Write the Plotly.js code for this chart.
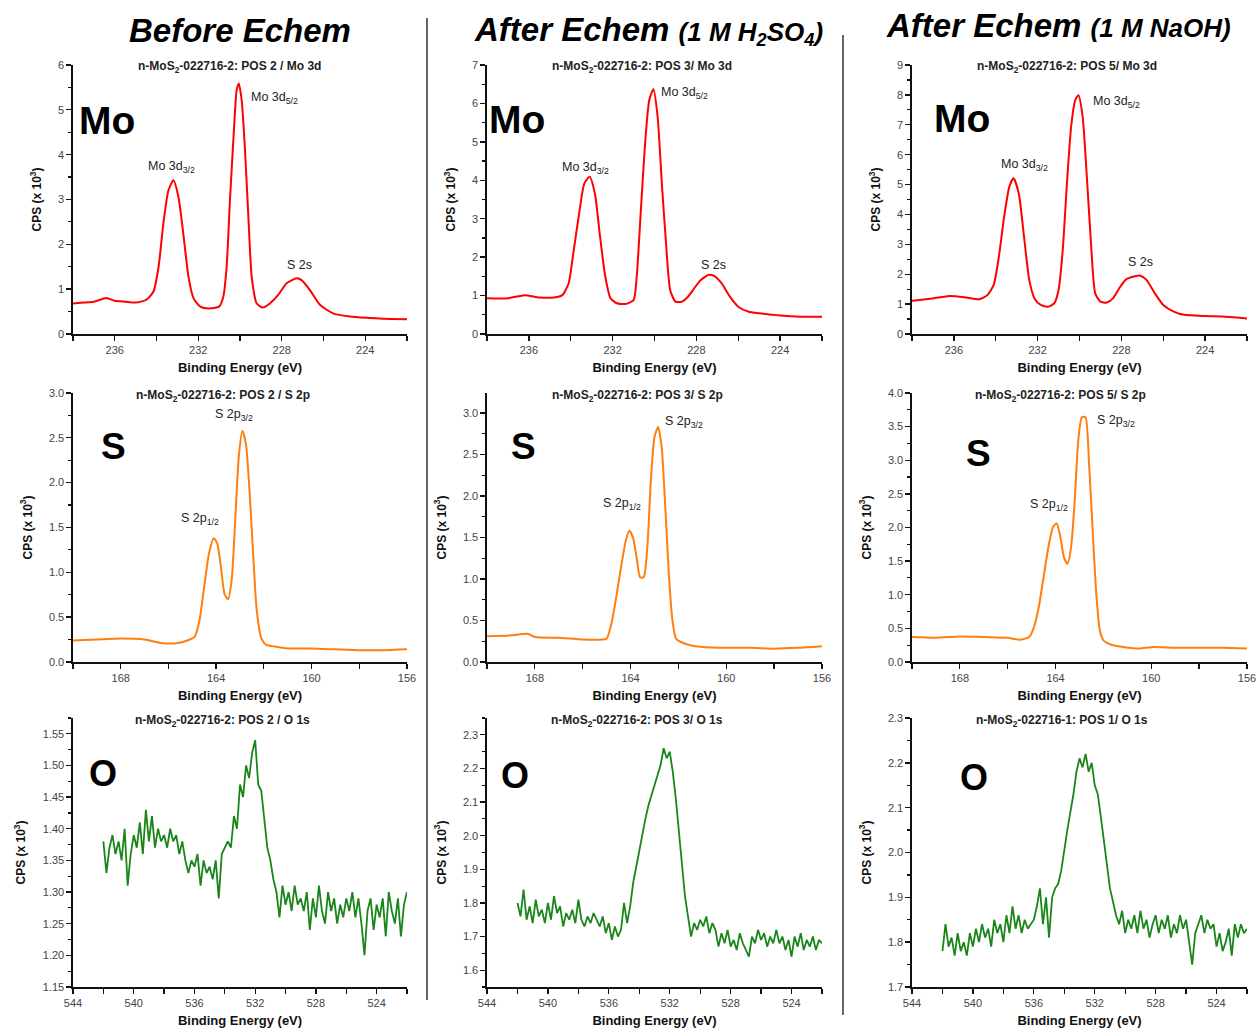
<!DOCTYPE html>
<html><head><meta charset="utf-8">
<script src="https://cdn.plot.ly/plotly-3.0.1.min.js"></script>
<style>body{margin:0;background:#fff}#chart{width:1256px;height:1031px}</style>
</head><body><div id="chart"></div>
<script>
// ---------- DATA ----------
const columnHeaders = ["Before Echem", "After Echem <span style='font-size:26px'>(1 M H<sub>2</sub>SO<sub>4</sub>)</span>", "After Echem <span style='font-size:26px'>(1 M NaOH)</span>"];
const panelTitles = [
  "n-MoS<sub>2</sub>-022716-2: POS 2 / Mo 3d", "n-MoS<sub>2</sub>-022716-2: POS 3/ Mo 3d", "n-MoS<sub>2</sub>-022716-2: POS 5/ Mo 3d",
  "n-MoS<sub>2</sub>-022716-2: POS 2 / S 2p", "n-MoS<sub>2</sub>-022716-2: POS 3/ S 2p", "n-MoS<sub>2</sub>-022716-2: POS 5/ S 2p",
  "n-MoS<sub>2</sub>-022716-2: POS 2 / O 1s", "n-MoS<sub>2</sub>-022716-2: POS 3/ O 1s", "n-MoS<sub>2</sub>-022716-1: POS 1/ O 1s"
];
const elementLabels = ["Mo", "S", "O"];

const moEnergyA = [238,237.5,237,236.4,236,235.5,235,234.5,234.15,233.9,233.67,233.43,233.19,232.95,232.7,232.47,232.23,231.9,231.5,231.0,230.8,230.64,230.48,230.3,230.16,230.06,229.92,229.76,229.6,229.44,229.2,228.9,228.57,228.17,227.77,227.29,227.05,226.65,226.17,225.54,224.74,223.94,223.15,222];
const moCpsA = [0.68,0.70,0.72,0.80,0.74,0.72,0.70,0.76,0.94,1.5,2.47,3.2,3.43,3.06,2.17,1.28,0.8,0.61,0.57,0.61,0.83,1.5,2.99,4.48,5.44,5.59,5.22,4.1,2.62,1.28,0.68,0.59,0.68,0.87,1.13,1.24,1.2,0.98,0.65,0.46,0.39,0.36,0.34,0.33];

const moEnergyB = [238,237,236.2,235.5,234.8,234.4,234.1,233.9,233.6,233.35,233.1,232.85,232.6,232.35,232.1,231.8,231.4,231.0,230.85,230.65,230.45,230.25,230.05,229.85,229.65,229.45,229.25,229.0,228.7,228.4,228.1,227.8,227.4,227.15,226.8,226.4,226.0,225.5,225.0,224.0,223.0,222];
const moCpsB = [0.93,0.93,1.01,0.95,0.95,1.01,1.32,2.01,3.14,3.92,4.09,3.66,2.53,1.49,0.93,0.8,0.78,0.88,1.49,3.23,4.96,6.09,6.37,5.65,3.92,2.36,1.14,0.84,0.84,0.97,1.19,1.4,1.54,1.51,1.32,0.97,0.71,0.58,0.54,0.48,0.45,0.45];

const moEnergyC = [238,237,236.2,235.5,234.8,234.4,234.1,233.85,233.6,233.35,233.15,232.9,232.65,232.4,232.15,231.85,231.5,231.2,231.0,230.8,230.6,230.4,230.2,230.05,229.85,229.65,229.45,229.25,229.0,228.7,228.4,228.1,227.8,227.4,227.1,226.8,226.4,226.0,225.5,225.0,224.0,223.0,222];
const moCpsC = [1.11,1.19,1.27,1.23,1.16,1.3,1.64,2.59,3.92,4.93,5.21,4.7,3.26,1.81,1.19,0.97,0.91,1.03,1.47,2.81,5.04,6.93,7.83,7.99,7.27,5.26,3.03,1.36,1.08,1.05,1.19,1.53,1.81,1.92,1.95,1.81,1.36,0.97,0.75,0.64,0.6,0.58,0.52];

const sEnergyA = [170,169,168,167,166.3,165.6,165.1,164.9,164.7,164.5,164.3,164.1,163.95,163.8,163.65,163.5,163.35,163.2,163.05,162.9,162.75,162.6,162.45,162.3,162.1,161.9,161.5,161,160,159,158,157,156];
const sCpsA = [0.24,0.25,0.26,0.25,0.21,0.21,0.25,0.28,0.46,0.84,1.21,1.38,1.32,1.06,0.76,0.70,0.91,1.58,2.29,2.58,2.43,1.91,1.21,0.58,0.26,0.19,0.17,0.15,0.15,0.14,0.13,0.13,0.14];

const sEnergyB = [170,169,168.3,168,167,166,165.2,165.0,164.8,164.6,164.4,164.2,164.05,163.9,163.75,163.6,163.45,163.3,163.15,163.0,162.85,162.7,162.55,162.4,162.25,162.1,161.9,161.5,161,160,159,158,157,156];
const sCpsB = [0.31,0.32,0.34,0.30,0.29,0.27,0.27,0.28,0.46,0.78,1.14,1.46,1.58,1.5,1.26,1.02,1.02,1.38,2.19,2.71,2.83,2.59,1.87,1.06,0.5,0.28,0.24,0.2,0.18,0.17,0.17,0.16,0.17,0.19];

const sEnergyC = [170,169,168,167,166,165.5,165.1,164.9,164.7,164.5,164.3,164.1,163.95,163.8,163.65,163.5,163.35,163.2,163.05,162.9,162.75,162.6,162.45,162.3,162.15,162.0,161.7,161.3,160.5,160,159,158,157,156];
const sCpsC = [0.37,0.36,0.38,0.37,0.36,0.33,0.37,0.52,0.82,1.26,1.71,2.01,2.06,1.86,1.56,1.46,1.71,2.4,3.3,3.64,3.64,2.95,1.96,1.02,0.47,0.32,0.26,0.23,0.2,0.22,0.21,0.21,0.21,0.2];

const oEnergy = [542.0,541.8,541.6,541.4,541.2,541.0,540.8,540.6,540.4,540.2,540.0,539.8,539.6,539.4,539.2,539.0,538.8,538.6,538.4,538.2,538.0,537.8,537.6,537.4,537.2,537.0,536.8,536.6,536.4,536.2,536.0,535.8,535.6,535.4,535.2,535.0,534.8,534.6,534.4,534.2,534.0,533.8,533.6,533.4,533.2,533.0,532.8,532.6,532.4,532.2,532.0,531.8,531.6,531.4,531.2,531.0,530.8,530.6,530.4,530.2,530.0,529.8,529.6,529.4,529.2,529.0,528.8,528.6,528.4,528.2,528.0,527.8,527.6,527.4,527.2,527.0,526.8,526.6,526.4,526.2,526.0,525.8,525.6,525.4,525.2,525.0,524.8,524.6,524.4,524.2,524.0,523.8,523.6,523.4,523.2,523.0,522.8,522.6,522.4,522.2,522.0];
const oCpsA = [1.38,1.33,1.37,1.39,1.36,1.38,1.35,1.40,1.31,1.36,1.39,1.37,1.41,1.36,1.43,1.38,1.42,1.37,1.40,1.38,1.39,1.37,1.40,1.38,1.39,1.36,1.38,1.35,1.33,1.35,1.34,1.36,1.31,1.35,1.33,1.34,1.32,1.35,1.29,1.36,1.37,1.38,1.37,1.42,1.40,1.47,1.45,1.50,1.48,1.52,1.54,1.47,1.46,1.41,1.37,1.35,1.32,1.30,1.26,1.31,1.28,1.30,1.27,1.31,1.28,1.29,1.27,1.30,1.24,1.29,1.26,1.31,1.27,1.25,1.30,1.27,1.29,1.25,1.28,1.26,1.29,1.27,1.30,1.26,1.29,1.25,1.20,1.27,1.29,1.24,1.28,1.26,1.29,1.23,1.30,1.27,1.25,1.29,1.23,1.28,1.30];
const oCpsB = [1.80,1.76,1.84,1.75,1.79,1.74,1.81,1.76,1.78,1.74,1.80,1.75,1.82,1.77,1.79,1.73,1.77,1.75,1.78,1.74,1.81,1.75,1.73,1.76,1.74,1.77,1.75,1.73,1.76,1.71,1.74,1.69,1.73,1.70,1.72,1.80,1.74,1.79,1.86,1.91,1.96,2.01,2.05,2.09,2.12,2.15,2.18,2.21,2.26,2.23,2.25,2.19,2.11,2.01,1.92,1.82,1.76,1.70,1.74,1.72,1.75,1.73,1.76,1.71,1.74,1.72,1.67,1.71,1.68,1.72,1.67,1.69,1.66,1.71,1.68,1.66,1.64,1.70,1.68,1.72,1.69,1.71,1.67,1.70,1.68,1.72,1.68,1.70,1.66,1.69,1.64,1.70,1.67,1.71,1.66,1.69,1.67,1.70,1.66,1.69,1.68];
const oCpsC = [1.78,1.84,1.79,1.81,1.77,1.82,1.78,1.80,1.77,1.82,1.79,1.83,1.80,1.84,1.81,1.83,1.79,1.85,1.82,1.84,1.80,1.86,1.82,1.88,1.83,1.86,1.82,1.85,1.83,1.84,1.85,1.88,1.92,1.84,1.90,1.81,1.90,1.92,1.93,1.96,2.01,2.05,2.09,2.13,2.18,2.21,2.19,2.22,2.18,2.20,2.15,2.13,2.08,2.03,1.97,1.92,1.89,1.86,1.84,1.87,1.82,1.85,1.83,1.86,1.82,1.87,1.83,1.85,1.81,1.84,1.86,1.82,1.85,1.83,1.86,1.81,1.84,1.82,1.86,1.83,1.85,1.80,1.75,1.82,1.84,1.86,1.82,1.85,1.83,1.84,1.79,1.82,1.78,1.80,1.83,1.77,1.84,1.81,1.84,1.82,1.83];

const moPeakNames = ["Mo 3d<sub>3/2</sub>", "Mo 3d<sub>5/2</sub>", "S 2s"];
const sPeakNames = ["S 2p<sub>1/2</sub>", "S 2p<sub>3/2</sub>"];

// ---------- LAYOUT HELPERS ----------
const W = 1256, H = 1031;
const FF = 'Liberation Sans, Arial, sans-serif';
const colPx = [[73, 407], [487, 822], [912, 1247]];
const rowPx = [[65, 334], [393, 662], [718, 987]];
const series = [
  [moEnergyA, moCpsA], [moEnergyB, moCpsB], [moEnergyC, moCpsC],
  [sEnergyA, sCpsA], [sEnergyB, sCpsB], [sEnergyC, sCpsC],
  [oEnergy, oCpsA], [oEnergy, oCpsB], [oEnergy, oCpsC]
];
const colors = ['#ff0000', '#ff7f0e', '#1a861a'];
const xRanges = [[238, 222], [170, 155.999], [544.001, 522]];
const yRanges = [[-0.001, 6], [-0.001, 7], [-0.001, 9], [-0.001, 3.0001], [-0.001, 3.24], [-0.001, 4.0001], [1.1499, 1.575], [1.55, 2.35], [1.6999, 2.3001]];
const yDtick = [1, 1, 1, 0.5, 0.5, 0.5, 0.05, 0.1, 0.1];
const yFmt = ['d', 'd', 'd', '.1f', '.1f', '.1f', '.2f', '.1f', '.1f'];
const xTick0 = [224, 156, 524];

const traces = [];
const layout = {
  width: W, height: H, margin: {l: 0, r: 0, t: 0, b: 0},
  paper_bgcolor: '#fff', plot_bgcolor: '#fff', showlegend: false,
  font: {family: FF, color: '#222'},
  annotations: [], shapes: []
};

for (let i = 0; i < 9; i++) {
  const r = Math.floor(i / 3), c = i % 3;
  const sfx = i === 0 ? '' : String(i + 1);
  traces.push({
    x: series[i][0], y: series[i][1], xaxis: 'x' + sfx, yaxis: 'y' + sfx,
    type: 'scatter', mode: 'lines',
    line: r < 2 ? {color: colors[r], width: 2, shape: 'spline', smoothing: 0.6} : {color: colors[r], width: 1.8}
  });
  layout['xaxis' + sfx] = {
    domain: [colPx[c][0] / W, colPx[c][1] / W], anchor: 'y' + sfx,
    range: xRanges[r], showgrid: false, zeroline: false,
    showline: true, linecolor: '#111', linewidth: 1.6,
    ticks: 'outside', ticklen: 5, tickwidth: 1.3, tickcolor: '#111',
    dtick: 4, tick0: xTick0[r], ticklabeloverflow: 'allow',
    minor: {dtick: 2, ticks: 'outside', ticklen: 5, tickwidth: 1.3, tickcolor: '#111'},
    tickfont: {size: 11, color: '#444', family: FF},
    title: {text: '<b>Binding Energy (eV)</b>', font: {size: 13, color: '#111', family: FF}, standoff: 8},
    automargin: false
  };
  layout['yaxis' + sfx] = {
    domain: [1 - rowPx[r][1] / H, 1 - rowPx[r][0] / H], anchor: 'x' + sfx,
    range: yRanges[i], showgrid: false, zeroline: false,
    showline: true, linecolor: '#111', linewidth: 1.6,
    ticks: 'outside', ticklen: 5, tickwidth: 1.3, tickcolor: '#111',
    dtick: yDtick[i], tick0: 0, tickformat: yFmt[i], ticklabeloverflow: 'allow',
    minor: {dtick: yDtick[i] / 2, ticks: 'outside', ticklen: 3, tickwidth: 1.2, tickcolor: '#111'},
    tickfont: {size: 11, color: '#444', family: FF},
    title: {text: '<b>CPS (x 10<sup>3</sup>)</b>', font: {size: 12, color: '#111', family: FF}, standoff: 14},
    automargin: false
  };
}

// Panel titles (paper px positions)
const titleCx = [[230, 642, 1067], [223, 637, 1060], [223, 637, 1062]];
const titleCy = [67, 396, 721];
for (let i = 0; i < 9; i++) {
  const r = Math.floor(i / 3), c = i % 3;
  layout.annotations.push({
    xref: 'paper', yref: 'paper', x: titleCx[r][c] / W, y: 1 - titleCy[r] / H,
    xanchor: 'center', yanchor: 'middle', showarrow: false,
    text: '<b>' + panelTitles[i] + '</b>', font: {size: 12, color: '#222', family: FF}
  });
}

// Big element labels (in data coords)
const elemPos = [
  [236.37, 4.77], [236.57, 5.57], [235.6, 7.21],
  [168.3, 2.4], [168.46, 2.59], [167.2, 3.1],
  [542.0, 1.487], [542.16, 2.18], [539.96, 2.168]
];
const elemSize = [39, 37, 36];
for (let i = 0; i < 9; i++) {
  const r = Math.floor(i / 3);
  const sfx = i === 0 ? '' : String(i + 1);
  layout.annotations.push({
    xref: 'x' + sfx, yref: 'y' + sfx, x: elemPos[i][0], y: elemPos[i][1],
    xanchor: 'center', yanchor: 'middle', showarrow: false,
    text: '<b>' + elementLabels[r] + '</b>', font: {size: elemSize[r], color: '#000', family: FF}
  });
}

// Peak labels
const moPeakPos = [
  [[233.3, 3.72], [228.33, 5.26], [227.13, 1.54]],
  [[233.31, 4.31], [228.55, 6.26], [227.2, 1.8]],
  [[232.62, 5.65], [228.21, 7.77], [227.09, 2.42]]
];
const sPeakPos = [
  [[164.67, 1.6], [163.27, 2.75]],
  [[164.34, 1.9], [161.76, 2.89]],
  [[164.27, 2.33], [161.48, 3.59]]
];
for (let c = 0; c < 3; c++) {
  const sfxMo = c === 0 ? '' : String(c + 1);
  const sfxS = String(c + 4);
  for (let k = 0; k < 3; k++) {
    layout.annotations.push({xref: 'x' + sfxMo, yref: 'y' + sfxMo, x: moPeakPos[c][k][0], y: moPeakPos[c][k][1],
      xanchor: 'center', yanchor: 'middle', showarrow: false, text: moPeakNames[k], font: {size: 12.5, color: '#222', family: FF}});
  }
  for (let k = 0; k < 2; k++) {
    layout.annotations.push({xref: 'x' + sfxS, yref: 'y' + sfxS, x: sPeakPos[c][k][0], y: sPeakPos[c][k][1],
      xanchor: 'center', yanchor: 'middle', showarrow: false, text: sPeakNames[k], font: {size: 12.5, color: '#222', family: FF}});
  }
}

// Column headers
const headerCx = [240, 648, 1058], headerCy = [31, 31, 25];
for (let c = 0; c < 3; c++) {
  layout.annotations.push({
    xref: 'paper', yref: 'paper', x: headerCx[c] / W, y: 1 - headerCy[c] / H,
    xanchor: 'center', yanchor: 'middle', showarrow: false,
    text: '<b><i>' + columnHeaders[c] + '</i></b>',
    font: {size: 33, color: '#000', family: 'Liberation Sans Narrow, Arial Narrow, Liberation Sans, Arial, sans-serif'}
  });
}

// Separators
layout.shapes.push({type: 'line', xref: 'paper', yref: 'paper', x0: 427 / W, x1: 427 / W, y0: 1 - 18 / H, y1: 1 - 1000 / H, line: {color: '#333', width: 1.5}});
layout.shapes.push({type: 'line', xref: 'paper', yref: 'paper', x0: 843 / W, x1: 843 / W, y0: 1 - 35 / H, y1: 1 - 1015 / H, line: {color: '#333', width: 1.5}});

Plotly.newPlot('chart', traces, layout, {staticPlot: true, displayModeBar: false});
</script>
</body></html>
